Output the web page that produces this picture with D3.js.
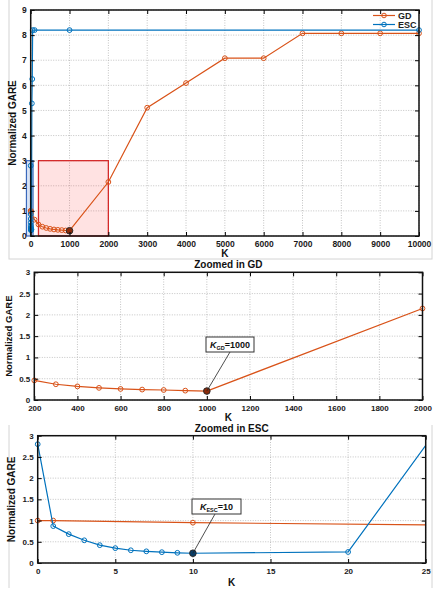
<!DOCTYPE html>
<html>
<head>
<meta charset="utf-8">
<script src="https://cdn.jsdelivr.net/npm/d3@7"></script>
<style>
  body { margin: 0; background: #fff; }
  text { font-family: "Liberation Sans", Arial, sans-serif; font-weight: bold; }
</style>
</head>
<body>
<script>
// GD curve (K, normalized GARE)
var gdK = [0, 1, 10, 100, 200, 300, 400, 500, 600, 700, 800, 900, 1000,
           2000, 3000, 4000, 5000, 6000, 7000, 8000, 9000, 10000];
var gdV = [1.0, 1.0, 0.95, 0.65, 0.46, 0.37, 0.32, 0.285, 0.26, 0.245, 0.235, 0.22, 0.21,
           2.15, 5.11, 6.09, 7.08, 7.08, 8.07, 8.07, 8.07, 8.07];

// ESC curve
var escK = [0, 1, 2, 3, 4, 5, 6, 7, 8, 9, 10, 20, 30, 40, 50, 100, 1000, 10000];
var escV = [2.8, 0.87, 0.68, 0.535, 0.42, 0.35, 0.30, 0.275, 0.255, 0.24, 0.23, 0.26,
            5.28, 6.25, 8.2, 8.2, 8.2, 8.2];

var topXTicks = [0, 1000, 2000, 3000, 4000, 5000, 6000, 7000, 8000, 9000, 10000];
var topYTicks = [0, 1, 2, 3, 4, 5, 6, 7, 8, 9];
var midXTicks = [200, 400, 600, 800, 1000, 1200, 1400, 1600, 1800, 2000];
var botXTicks = [0, 5, 10, 15, 20, 25];
var zoomYTicks = [0, 0.5, 1, 1.5, 2, 2.5, 3];

var bestGD = 1000, bestESC = 10;
var gdZoom = [200, 2000], escZoom = [-110, 60]; // highlighted boxes in top plot (K range)

var orange = "#D95319", blue = "#0072BD";

var gd = gdK.map(function(k, i) { return {k: k, v: gdV[i]}; });
var esc = escK.map(function(k, i) { return {k: k, v: escV[i]}; });

var svg = d3.select("body").append("svg")
  .attr("width", 439)
  .attr("height", 593);

// faint panel frames
svg.append("rect").attr("x", 9).attr("y", -2).attr("width", 423).attr("height", 261)
  .attr("fill", "none").attr("stroke", "#d4d4d4");
svg.append("line").attr("x1", 9).attr("x2", 9).attr("y1", 425).attr("y2", 588).attr("stroke", "#d4d4d4");
svg.append("line").attr("x1", 432).attr("x2", 432).attr("y1", 425).attr("y2", 588).attr("stroke", "#d4d4d4");

function drawChart(o) {
  var g = svg.append("g");
  var x = o.x, y = o.y;
  var x0 = x.range()[0], x1 = x.range()[1], y0 = y.range()[0], y1 = y.range()[1];

  g.append("clipPath").attr("id", o.id)
    .append("rect").attr("x", x0).attr("y", y1).attr("width", x1 - x0).attr("height", y0 - y1);

  // grid
  g.selectAll(".gx").data(o.xTicks).enter().append("line")
    .attr("x1", function(d) { return x(d); }).attr("x2", function(d) { return x(d); })
    .attr("y1", y0).attr("y2", y1)
    .attr("stroke", "#b5b5b5").attr("stroke-width", 0.8).attr("stroke-dasharray", "1,1.5");
  g.selectAll(".gy").data(o.yTicks).enter().append("line")
    .attr("y1", function(d) { return y(d); }).attr("y2", function(d) { return y(d); })
    .attr("x1", x0).attr("x2", x1)
    .attr("stroke", "#b5b5b5").attr("stroke-width", 0.8).attr("stroke-dasharray", "1,1.5");

  if (o.before) o.before(g);

  var line = d3.line().x(function(d) { return x(d.k); }).y(function(d) { return y(d.v); });
  var xd = x.domain(), yd = y.domain();
  o.series.forEach(function(s) {
    g.append("path").datum(s.data)
      .attr("clip-path", "url(#" + o.id + ")")
      .attr("fill", "none").attr("stroke", s.color).attr("stroke-width", 1.2)
      .attr("d", line);
    g.selectAll(null)
      .data(s.data.filter(function(d) {
        return d.k >= xd[0] && d.k <= xd[1] && d.v >= yd[0] && d.v <= yd[1];
      }))
      .enter().append("circle")
      .attr("cx", function(d) { return x(d.k); })
      .attr("cy", function(d) { return y(d.v); })
      .attr("r", function(d) { return d.k === s.best ? 3.3 : 2.4; })
      .attr("fill", function(d) { return d.k === s.best ? s.dark : "none"; })
      .attr("stroke", function(d) { return d.k === s.best ? "#2a2a2a" : s.color; })
      .attr("stroke-width", 1);
  });

  // axes with inward ticks
  g.append("g").attr("transform", "translate(0," + y0 + ")")
    .call(d3.axisBottom(x).tickValues(o.xTicks).tickSize(-4).tickPadding(5).tickFormat(d3.format("d")))
    .call(function(a) { a.select(".domain").remove(); a.selectAll("text").attr("font-size", o.tickFont).attr("fill", "#1a1a1a"); });
  g.append("g").attr("transform", "translate(" + x0 + ",0)")
    .call(d3.axisLeft(y).tickValues(o.yTicks).tickSize(-4).tickPadding(4).tickFormat(o.yFormat))
    .call(function(a) { a.select(".domain").remove(); a.selectAll("text").attr("font-size", o.tickFont).attr("fill", "#1a1a1a"); });
  g.append("g").attr("transform", "translate(0," + y1 + ")")
    .call(d3.axisTop(x).tickValues(o.xTicks).tickSize(-4).tickFormat(""))
    .call(function(a) { a.select(".domain").remove(); });
  g.append("g").attr("transform", "translate(" + x1 + ",0)")
    .call(d3.axisRight(y).tickValues(o.yTicks).tickSize(-4).tickFormat(""))
    .call(function(a) { a.select(".domain").remove(); });

  g.append("rect").attr("x", x0).attr("y", y1).attr("width", x1 - x0).attr("height", y0 - y1)
    .attr("fill", "none").attr("stroke", "#111").attr("stroke-width", 1.5);

  g.append("text").attr("x", (x0 + x1) / 2).attr("y", o.kLabelY)
    .attr("text-anchor", "middle").attr("font-size", 10).attr("fill", "#111").text("K");
  g.append("text").attr("transform", "translate(" + o.yLabelX + "," + (y0 + y1) / 2 + ") rotate(-90)")
    .attr("text-anchor", "middle").attr("font-size", o.yLabelFont).attr("fill", "#111").text("Normalized GARE");
  if (o.title) {
    g.append("text").attr("x", (x0 + x1) / 2).attr("y", y1 - 4)
      .attr("text-anchor", "middle").attr("font-size", 10).attr("fill", "#111").text(o.title);
  }
  if (o.after) o.after(g);
  return g;
}

function annotate(g, px, py, bx, by, bw, sub, val, lx) {
  g.append("line").attr("x1", lx).attr("y1", by + 15).attr("x2", px).attr("y2", py)
    .attr("stroke", "#222").attr("stroke-width", 0.8);
  g.append("rect").attr("x", bx).attr("y", by).attr("width", bw).attr("height", 15)
    .attr("fill", "#fff").attr("stroke", "#333").attr("stroke-width", 1);
  var t = g.append("text").attr("x", bx + bw / 2).attr("y", by + 11)
    .attr("text-anchor", "middle").attr("font-size", 9).attr("fill", "#111");
  t.append("tspan").attr("font-style", "italic").text("K");
  t.append("tspan").attr("font-size", 5.5).attr("dy", 2).text(sub);
  t.append("tspan").attr("dy", -2).text("=" + val);
}

// ---- top: full range
var topX = d3.scaleLinear().domain([0, 10000]).range([30.7, 419]);
var topY = d3.scaleLinear().domain([0, 9]).range([236, 10]);
drawChart({
  id: "clipTop", x: topX, y: topY, xTicks: topXTicks, yTicks: topYTicks,
  yFormat: d3.format("d"), tickFont: 8.5, kLabelY: 257, yLabelX: 16, yLabelFont: 10,
  series: [
    {data: gd, color: orange, dark: "#8a2a0a", best: bestGD},
    {data: esc, color: blue, dark: "#0a3d66", best: -1}
  ],
  before: function(g) {
    g.append("rect").attr("x", topX(gdZoom[0])).attr("y", topY(3))
      .attr("width", topX(gdZoom[1]) - topX(gdZoom[0])).attr("height", topY(0) - topY(3))
      .attr("fill", "#ff3030").attr("fill-opacity", 0.14).attr("stroke", "#d42a2a").attr("stroke-width", 1.3);
    g.append("rect").attr("x", topX(escZoom[0])).attr("y", topY(3))
      .attr("width", topX(escZoom[1]) - topX(escZoom[0])).attr("height", topY(0) - topY(3))
      .attr("fill", "#7fa2dd").attr("fill-opacity", 0.3).attr("stroke", "#3a68bb").attr("stroke-width", 1.2);
  },
  after: function(g) {
    var leg = [{name: "GD", color: orange}, {name: "ESC", color: blue}];
    leg.forEach(function(d, i) {
      var ly = 15.5 + i * 9;
      g.append("line").attr("x1", 373).attr("x2", 395).attr("y1", ly).attr("y2", ly)
        .attr("stroke", d.color).attr("stroke-width", 1.2);
      g.append("circle").attr("cx", 384).attr("cy", ly).attr("r", 2.3)
        .attr("fill", "none").attr("stroke", d.color);
      g.append("text").attr("x", 398).attr("y", ly + 3.2).attr("font-size", 9)
        .attr("fill", "#222").text(d.name);
    });
  }
});

// ---- middle: zoom on GD
var midX = d3.scaleLinear().domain([200, 2000]).range([34.3, 422.5]);
var midY = d3.scaleLinear().domain([0, 3]).range([400, 272.3]);
drawChart({
  id: "clipMid", x: midX, y: midY, xTicks: midXTicks, yTicks: zoomYTicks,
  yFormat: d3.format("~g"), tickFont: 8, kLabelY: 421, yLabelX: 12, yLabelFont: 9.5,
  title: "Zoomed in GD",
  series: [{data: gd, color: orange, dark: "#8a2a0a", best: bestGD}],
  after: function(g) {
    annotate(g, midX(bestGD), midY(gdV[gdK.indexOf(bestGD)]), 206, 337, 48, "GD", bestGD, 230);
  }
});

// ---- bottom: zoom on ESC
var botX = d3.scaleLinear().domain([0, 25]).range([37.7, 425.7]);
var botY = d3.scaleLinear().domain([0, 3]).range([563, 435.7]);
drawChart({
  id: "clipBot", x: botX, y: botY, xTicks: botXTicks, yTicks: zoomYTicks,
  yFormat: d3.format("~g"), tickFont: 8, kLabelY: 586, yLabelX: 15, yLabelFont: 10,
  title: "Zoomed in ESC",
  series: [
    {data: gd, color: orange, dark: "#8a2a0a", best: -1},
    {data: esc, color: blue, dark: "#0a3d66", best: bestESC}
  ],
  after: function(g) {
    annotate(g, botX(bestESC), botY(escV[escK.indexOf(bestESC)]), 192, 499, 49, "ESC", bestESC, 215);
  }
});
</script>
</body>
</html>
